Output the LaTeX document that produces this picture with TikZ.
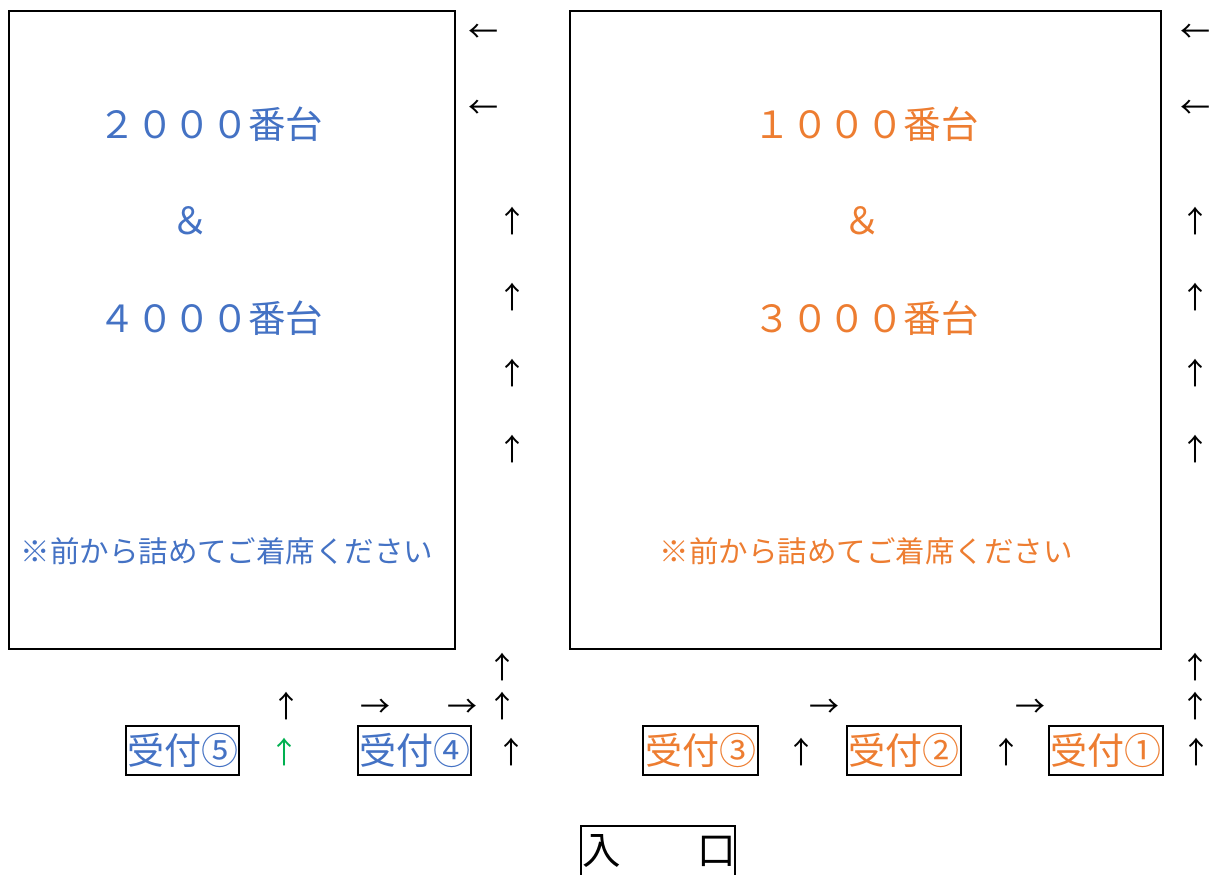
\documentclass[tikz,border=0pt]{standalone}
\usepackage{fontspec}
\setmainfont{Noto Sans CJK JP}
\definecolor{jblue}{HTML}{4472C4}
\definecolor{jorange}{HTML}{ED7D31}
\definecolor{jgreen}{HTML}{00B050}
\tikzset{
  hall/.style={draw=black, line width=1.6pt},
  big/.style={inner sep=0pt, font=\fontsize{37.5}{40}\selectfont},
  note/.style={inner sep=0pt, font=\fontsize{29.5}{32}\selectfont},
  arr/.style={inner sep=0pt, font=\fontsize{30}{32}\selectfont, text=black},
  desk/.style={draw=black, line width=1.4pt, inner sep=0pt, font=\fontsize{37}{40}\selectfont},
}
\begin{document}
\begin{tikzpicture}[x=1pt, y=-1pt]
\useasboundingbox (0,0) rectangle (1211,875);
\begin{scope}
\clip (0,0) rectangle (1211,875);
% halls
\node[hall, minimum width=446pt, minimum height=638pt, inner sep=0pt] (lhall) at (232,330) {};
\node[hall, minimum width=591pt, minimum height=638pt, inner sep=0pt] (rhall) at (865.5,330) {};
% left texts
\node[big, text=jblue] (l1) at (211,124) {２０００番台};
\node[big, text=jblue] (l2) at (190,221) {＆};
\node[big, text=jblue] (l3) at (211,318) {４０００番台};
\node[note, text=jblue] (l4) at (227,551) {※前から詰めてご着席ください};
% right texts
\node[big, text=jorange] (r1) at (866,124) {１０００番台};
\node[big, text=jorange] (r2) at (862,221) {＆};
\node[big, text=jorange] (r3) at (866,318) {３０００番台};
\node[note, text=jorange] (r4) at (866,551) {※前から詰めてご着席ください};
% arrows top
\node[arr] (a1) at (483,33) {←};
\node[arr] (a2) at (483,109) {←};
\node[arr] (a3) at (1195,33) {←};
\node[arr] (a4) at (1195,109) {←};
% up arrows middle
\node[arr] (u1) at (512,221) {↑};
\node[arr] (u2) at (512,297) {↑};
\node[arr] (u3) at (512,373) {↑};
\node[arr] (u4) at (512,449) {↑};
\node[arr] (u5) at (1195,221) {↑};
\node[arr] (u6) at (1195,297) {↑};
\node[arr] (u7) at (1195,373) {↑};
\node[arr] (u8) at (1195,449) {↑};
% bottom left arrows
\node[arr] (b1) at (502,667) {↑};
\node[arr] (b2) at (502,706) {↑};
\node[arr] (b3) at (462,708) {→};
\node[arr] (b4) at (375,708) {→};
\node[arr] (b5) at (286,706) {↑};
\node[arr, text=jgreen] (b6) at (284,752) {↑};
\node[arr] (b7) at (511,752) {↑};
% bottom right arrows
\node[arr] (c1) at (1195,667) {↑};
\node[arr] (c2) at (1195,706) {↑};
\node[arr] (c3) at (1196,752) {↑};
\node[arr] (c4) at (824,708) {→};
\node[arr] (c5) at (1030,708) {→};
\node[arr] (c6) at (801,752) {↑};
\node[arr] (c7) at (1006,752) {↑};
% desks
\node[desk, text=jblue, minimum width=113pt, minimum height=49pt] (d5) at (182.5,750.5) {受付⑤};
\node[desk, text=jblue, minimum width=113pt, minimum height=49pt] (d4) at (414.5,750.5) {受付④};
\node[desk, text=jorange, minimum width=115pt, minimum height=49pt] (d3) at (700.5,750.5) {受付③};
\node[desk, text=jorange, minimum width=114pt, minimum height=49pt] (d2) at (904,750.5) {受付②};
\node[desk, text=jorange, minimum width=114pt, minimum height=49pt] (d1) at (1106,750.5) {受付①};
% entrance
\node[draw=black, line width=1.4pt, minimum width=154pt, minimum height=60pt, inner sep=0pt] (ent) at (658,856) {};
\node[inner sep=0pt, font=\fontsize{38.5}{40}\selectfont, anchor=west] (enttxt) at (582,851) {入　　口};
\end{scope}
\end{tikzpicture}
\end{document}
